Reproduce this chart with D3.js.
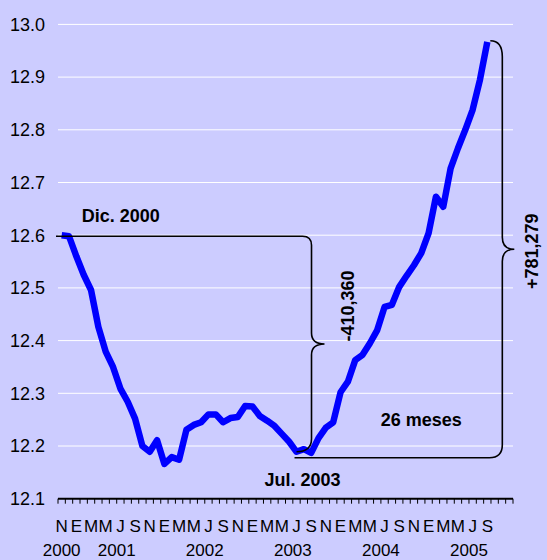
<!DOCTYPE html>
<html><head><meta charset="utf-8">
<script src="https://cdn.jsdelivr.net/npm/d3@7"></script>
<style>
html,body{margin:0;padding:0;background:#CCCCFF;}
svg{display:block;font-family:"Liberation Sans",Arial,sans-serif;}
</style></head>
<body>
<script>
(function(){
// ---- data ----
const monthInitials = ["E","F","M","A","M","J","J","A","S","O","N","D"]; // Spanish initials, Jan..Dec
const years = ["2000","2001","2002","2003","2004","2005"];
// axis categories: Nov 2000 .. Dec 2005
const categories = [];
for (let yy = 2000; yy <= 2005; yy++) for (let m = 0; m < 12; m++) {
  if (yy === 2000 && m < 10) continue;
  categories.push({ key: yy + "-" + (m + 1), year: String(yy), month: m, label: monthInitials[m] });
}
// series values (millions), Nov 2000 .. Sep 2005
const values = [
  12.600, 12.598, 12.560, 12.525, 12.496, 12.426, 12.379, 12.350, 12.309, 12.284,
  12.252, 12.200, 12.189, 12.211, 12.166, 12.179, 12.174, 12.231, 12.240, 12.245,
  12.260, 12.260, 12.245, 12.253, 12.255, 12.276, 12.275, 12.257, 12.248, 12.238,
  12.223, 12.208, 12.189, 12.194, 12.187, 12.215, 12.235, 12.245, 12.302, 12.322,
  12.363, 12.373, 12.395, 12.420, 12.464, 12.468, 12.502, 12.523, 12.543, 12.566,
  12.604, 12.673, 12.654, 12.727, 12.765, 12.800, 12.838, 12.895, 12.967
];
const yTicks = [12.1, 12.2, 12.3, 12.4, 12.5, 12.6, 12.7, 12.8, 12.9, 13.0];
const startIdx = 1;   // Dic. 2000
const minIdx = 32;    // Jul. 2003
const peakIdx = 58;   // Sep. 2005
const labelTexts = { start: "Dic. 2000", min: "Jul. 2003", drop: "-410,360", rise: "+781,279", months: "26 meses" };

// ---- layout ----
const W = 547, H = 560;
const pl = 58, pr = 513, pt = 24.4, pb = 498.7;
const svg = d3.select("body").append("svg").attr("width", W).attr("height", H);
svg.append("rect").attr("width", W).attr("height", H).attr("fill", "#CCCCFF");

const x = d3.scaleBand().domain(categories.map(d => d.key)).range([pl, pr]).padding(0);
const xc = i => x(categories[i].key) + x.bandwidth() / 2;
const y = d3.scaleLinear().domain([12.1, 13.0]).range([pb, pt]);

// gridlines
svg.append("g").selectAll("line").data(yTicks.filter(t => t > 12.1)).join("line")
  .attr("x1", pl).attr("x2", pr).attr("y1", d => y(d)).attr("y2", d => y(d))
  .attr("stroke", "#FFFFFF").attr("stroke-width", 1);

// y labels
svg.append("g").selectAll("text").data(yTicks).join("text")
  .attr("x", 45).attr("y", d => y(d)).attr("dy", "0.35em")
  .attr("text-anchor", "end").attr("font-size", 18).attr("fill", "#000")
  .text(d => d3.format(".1f")(d));

// x axis
const xAxis = d3.axisBottom(x).tickSize(0).tickFormat("");
const gx = svg.append("g").attr("transform", `translate(0,${pb})`).call(xAxis);
gx.select(".domain").remove();
svg.append("line").attr("x1", pl).attr("x2", pr).attr("y1", pb).attr("y2", pb)
  .attr("stroke", "#000").attr("stroke-width", 2);
const boundaries = categories.map(d => x(d.key)).concat([pr]);
svg.append("g").selectAll("line").data(boundaries).join("line")
  .attr("x1", d => d).attr("x2", d => d).attr("y1", pb).attr("y2", pb + 5)
  .attr("stroke", "#000").attr("stroke-width", 1);

// month labels (every other month, where data exists)
svg.append("g").selectAll("text")
  .data(categories.map((d, i) => ({ d, i })).filter(o => o.i % 2 === 0 && o.i < values.length))
  .join("text")
  .attr("x", o => xc(o.i)).attr("y", 532).attr("text-anchor", "middle")
  .attr("font-size", 17).attr("fill", "#000").text(o => o.d.label);

// year labels at mid-year (between Jun and Jul), clamped to the axis categories
const firstX = xc(0), lastX = xc(categories.length - 1);
svg.append("g").selectAll("text").data(years).join("text")
  .attr("x", yr => {
    const jun = categories.findIndex(d => d.year === yr && d.month === 5);
    const jul = categories.findIndex(d => d.year === yr && d.month === 6);
    if (jun < 0) return firstX;
    return Math.min(lastX, (xc(jun) + xc(jul)) / 2);
  })
  .attr("y", 556).attr("text-anchor", "middle").attr("font-size", 17).attr("fill", "#000")
  .text(d => d);

// series line
const line = d3.line().x((d, i) => xc(i)).y(d => y(d));
svg.append("path").datum(values).attr("d", line)
  .attr("fill", "none").attr("stroke", "#0000FF").attr("stroke-width", 6.5)
  .attr("stroke-linejoin", "round");

// ---- annotations ----
const ann = svg.append("g").attr("fill", "none").attr("stroke", "#000").attr("stroke-width", 1.6);
const yT1 = y(values[startIdx]), yB1 = y(values[minIdx]);
const xv1 = xc(minIdx) + 15, ym1 = (yT1 + yB1) / 2;
ann.append("path").attr("d",
  `M${pl - 2},${yT1} H${xv1 - 9} Q${xv1},${yT1} ${xv1},${yT1 + 9} V${ym1 - 11} ` +
  `Q${xv1},${ym1} ${xv1 + 13},${ym1} Q${xv1},${ym1} ${xv1},${ym1 + 11} ` +
  `V${yB1 - 13} Q${xv1},${yB1} ${xc(minIdx)},${yB1}`);
const yT2 = y(values[peakIdx]) - 1, yB2 = y(values[minIdx]) + 6;
const xv2 = xc(peakIdx) + 15, ym2 = (yT2 + yB2) / 2;
ann.append("path").attr("d",
  `M${xc(peakIdx) + 3},${yT2} Q${xv2},${yT2} ${xv2},${yT2 + 16} V${ym2 - 12} ` +
  `Q${xv2},${ym2} ${xv2 + 12},${ym2} Q${xv2},${ym2} ${xv2},${ym2 + 12} ` +
  `V${yB2 - 13} Q${xv2},${yB2} ${xv2 - 13},${yB2} H${xc(minIdx) - 2}`);

const txt = svg.append("g").attr("font-weight", "bold").attr("font-size", 18).attr("fill", "#000");
txt.append("text").attr("x", xc(0) + 20).attr("y", y(12.6) - 13).text(labelTexts.start);
txt.append("text").attr("x", xc(minIdx) + 6).attr("y", yB2 + 28).attr("text-anchor", "middle").text(labelTexts.min);
txt.append("text").attr("transform", `translate(${xv1 + 42},${ym1 - 38}) rotate(-90)`)
  .attr("text-anchor", "middle").text(labelTexts.drop);
txt.append("text").attr("transform", `translate(${xv2 + 36},${ym2 + 2}) rotate(-90)`)
  .attr("text-anchor", "middle").text(labelTexts.rise);
txt.append("text").attr("x", xc(49)).attr("y", y(values[minIdx]) - 26).attr("text-anchor", "middle").text(labelTexts.months);
})();
</script>
</body></html>
